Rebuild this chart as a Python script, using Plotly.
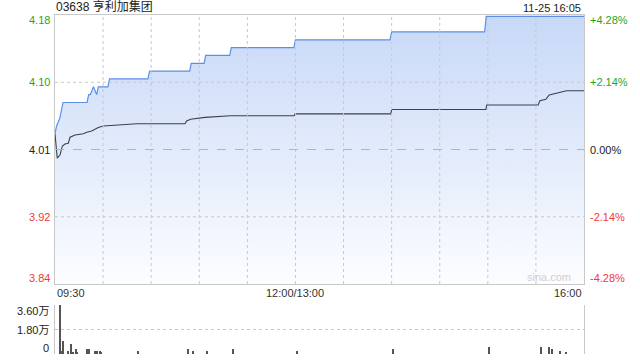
import plotly.graph_objects as go

# ---------------- data ----------------
title_text = "03638 亨利加集团"
stamp_text = "11-25 16:05"
prev_close = 4.01
pct_ticks = [-4.28, -2.14, 0.0, 2.14, 4.28]
price_tick_text = ["3.84", "3.92", "4.01", "4.10", "4.18"]
pct_tick_text = ["-4.28%", "-2.14%", "0.00%", "+2.14%", "+4.28%"]
x_tick_minutes = [0, 150, 330]
x_tick_text = ["09:30", "12:00/13:00", "16:00"]
grid_minutes = [30, 60, 90, 120, 150, 180, 210, 240, 270, 300]
total_minutes = 330

# price line (minutes from 09:30, trading time)
price_min = [0, 1, 3, 5, 20, 21, 22, 24, 26, 27, 33, 34, 58, 59, 84, 85, 93, 94,
             109, 110, 149, 150, 209, 210, 268, 269, 330]
price_val = [4.03, 4.04, 4.05, 4.07, 4.07, 4.08, 4.08, 4.09, 4.08, 4.09, 4.09, 4.10,
             4.10, 4.11, 4.11, 4.12, 4.12, 4.13, 4.13, 4.14, 4.14, 4.15, 4.15, 4.16,
             4.16, 4.18, 4.18]

# average price line
avg_min = [0, 1.4, 3.1, 4.6, 6.2, 8.3, 9.4, 12.5, 17.7, 19.8, 22.9, 27, 30.1, 38.5,
           51, 81.1, 82.1, 84.6, 93.6, 109.5, 149.2, 149.7, 209.5, 210, 268.8, 269.3,
           301.4, 302.5, 306.2, 308.3, 312.9, 315, 319.1, 330]
avg_val = [4.030, 3.999, 4.003, 4.0145, 4.017, 4.018, 4.0256, 4.0285, 4.030, 4.032,
           4.0336, 4.038, 4.040, 4.0413, 4.0428, 4.0428, 4.0464, 4.0485, 4.051, 4.053,
           4.053, 4.0555, 4.0555, 4.061, 4.061, 4.0668, 4.0668, 4.0723, 4.074, 4.0795,
           4.0817, 4.083, 4.085, 4.085]

# volume
vol_min = [3, 4, 5, 8, 10, 11, 13, 14, 20, 21, 25, 26, 28, 29, 52, 83, 86, 95, 111,
           151, 211, 271, 303, 308, 310, 315, 319]
vol_val = [36000, 2000, 9500, 2000, 7300, 1500, 3700, 1500, 3700, 3700, 2200, 2200,
           2200, 1500, 2200, 3700, 2200, 2200, 3700, 2200, 3700, 5000, 5000, 5000,
           3700, 2200, 1500]
vol_ticks = [0, 18000, 36000]
vol_tick_text = ["0", "1.80万", "3.60万"]

# ---------------- derived ----------------
price_ticks = [prev_close * (1 + p / 100) for p in pct_ticks]
y_lo, y_hi = price_ticks[0], price_ticks[-1]

GREEN = "#1fa71f"
RED = "#f23a3a"
DARK = "#222222"
GRID = "#c8c8c8"
FONT = "Liberation Sans, Arial, Noto Sans CJK SC, sans-serif"

def label_color(p):
    return GREEN if p > 0 else (RED if p < 0 else DARK)

fig = go.Figure()

fig.add_trace(go.Scatter(
    x=price_min, y=price_val, mode="lines",
    line=dict(color="#5b8fe6", width=1.2),
    fill="tozeroy",
    fillgradient=dict(type="vertical", start=y_lo, stop=y_hi,
                      colorscale=[[0, "rgb(252,253,255)"], [1, "rgb(199,216,247)"]]),
    hoverinfo="skip", xaxis="x", yaxis="y"))

fig.add_trace(go.Scatter(
    x=avg_min, y=avg_val, mode="lines",
    line=dict(color="#3b4150", width=1.1),
    hoverinfo="skip", xaxis="x", yaxis="y"))

fig.add_trace(go.Bar(
    x=vol_min, y=vol_val, width=0.7,
    marker=dict(color="#555555", line=dict(width=0)),
    hoverinfo="skip", xaxis="x2", yaxis="y2"))

main_dom = [70 / 339, 1.0]
vol_dom = [0.0, 49 / 339]

fig.update_layout(
    width=640, height=360,
    margin=dict(l=55, r=56, t=15, b=6),
    paper_bgcolor="white", plot_bgcolor="white",
    showlegend=False,
    font=dict(family=FONT, size=11, color=DARK),
    bargap=0,
    xaxis=dict(domain=[0, 1], range=[0, total_minutes], anchor="y",
               showticklabels=False, showgrid=False,
               showline=True, mirror=True, linecolor=GRID, linewidth=1,
               zeroline=False, ticks=""),
    yaxis=dict(domain=main_dom, range=[y_lo, y_hi], anchor="x",
               showticklabels=False, showgrid=False,
               showline=True, mirror=True, linecolor=GRID, linewidth=1,
               zeroline=False, ticks=""),
    xaxis2=dict(domain=[0, 1], range=[0, total_minutes], anchor="y2",
                showticklabels=False, showgrid=False, zeroline=False,
                showline=False, ticks=""),
    yaxis2=dict(domain=vol_dom, range=[0, vol_ticks[-1]], anchor="x2",
                tickvals=vol_ticks, showticklabels=False,
                showgrid=True, gridcolor=GRID, griddash="dot", gridwidth=1,
                showline=True, mirror=True, linecolor=GRID, linewidth=1,
                zeroline=False, ticks=""),
)

shapes = []
for m in grid_minutes:
    shapes.append(dict(type="line", xref="x", yref="y domain", x0=m, x1=m, y0=0, y1=1,
                       layer="above", line=dict(color=GRID, width=1, dash="dot")))
for v in price_ticks[1:-1]:
    if abs(v - prev_close) < 1e-9:
        continue
    shapes.append(dict(type="line", xref="x domain", yref="y", x0=0, x1=1, y0=v, y1=v,
                       layer="above", line=dict(color=GRID, width=1, dash="dot")))
# prev-close reference line (dashed)
shapes.append(dict(type="line", xref="x domain", yref="y", x0=0, x1=1,
                   y0=prev_close, y1=prev_close, layer="above",
                   line=dict(color="#b4b4b4", width=1, dash="dash")))
fig.update_layout(shapes=shapes)

ann = []
n = len(price_ticks)
for i, (v, pt, pc) in enumerate(zip(price_ticks, price_tick_text, pct_tick_text)):
    shift = -5 if i == n - 1 else (6 if i == 0 else 0)
    col = label_color(pct_ticks[i])
    ann.append(dict(xref="paper", yref="y", x=0, y=v, text=pt, showarrow=False,
                    xanchor="right", yanchor="middle", xshift=-3, yshift=shift,
                    font=dict(size=11, color=col)))
    ann.append(dict(xref="paper", yref="y", x=1, y=v, text=pc, showarrow=False,
                    xanchor="left", yanchor="middle", xshift=4, yshift=shift,
                    font=dict(size=11, color=col)))

anchors = ["left", "center", "right"]
for m, t, a in zip(x_tick_minutes, x_tick_text, anchors):
    ann.append(dict(xref="x", yref="y domain", x=m, y=0, text=t, showarrow=False,
                    xanchor=a, yanchor="top", yshift=-1,
                    font=dict(size=11, color="#333333")))

nv = len(vol_ticks)
for i, (v, t) in enumerate(zip(vol_ticks, vol_tick_text)):
    shift = -6 if i == nv - 1 else (6 if i == 0 else 0)
    ann.append(dict(xref="paper", yref="y2", x=0, y=v, text=t, showarrow=False,
                    xanchor="right", yanchor="middle", xshift=-4, yshift=shift,
                    font=dict(size=11, color=DARK)))

ann.append(dict(xref="paper", yref="paper", x=0, y=1, text=title_text, showarrow=False,
                xanchor="left", yanchor="bottom", yshift=-1, xshift=-1,
                font=dict(size=12, color=DARK)))
ann.append(dict(xref="paper", yref="paper", x=1, y=1, text=stamp_text, showarrow=False,
                xanchor="right", yanchor="bottom", yshift=-1, xshift=-1,
                font=dict(size=11, color=DARK)))
ann.append(dict(xref="paper", yref="y domain", x=1, y=0, text="sina.com", showarrow=False,
                xanchor="right", yanchor="bottom", xshift=-11, yshift=-1,
                font=dict(size=11, color="#cfcfcf")))

fig.update_layout(annotations=ann)

fig.write_html("out.html", config={"displayModeBar": False},
               post_script="document.body.style.margin='0';")
